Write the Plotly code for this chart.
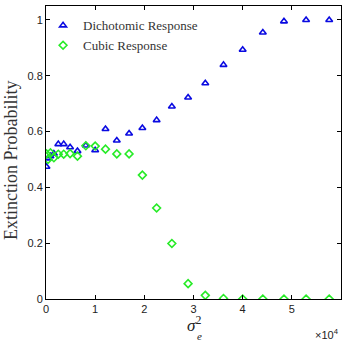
import plotly.graph_objects as go

x_vals = [0.01, 0.04, 0.09, 0.16, 0.25, 0.36, 0.49, 0.64, 0.81, 1.00, 1.21, 1.44,
          1.69, 1.96, 2.25, 2.56, 2.89, 3.24, 3.61, 4.00, 4.41, 4.84, 5.29, 5.76]
dichotomic = [0.474, 0.504, 0.512, 0.521, 0.555, 0.555, 0.544, 0.530, 0.550, 0.533, 0.609, 0.568,
              0.593, 0.613, 0.641, 0.690, 0.722, 0.773, 0.839, 0.893, 0.955, 0.995, 1.0, 1.0]
cubic = [0.520, 0.500, 0.524, 0.506, 0.519, 0.519, 0.521, 0.512, 0.549, 0.548, 0.537, 0.520,
         0.520, 0.444, 0.326, 0.199, 0.055, 0.013, 0.002, 0.0, 0.0, 0.0, 0.0, 0.0]
x_ticks = [0, 1, 2, 3, 4, 5]
y_ticks = [0, 0.2, 0.4, 0.6, 0.8, 1]
y_tick_text = ["0", "0.2", "0.4", "0.6", "0.8", "1"]

fig = go.Figure()
fig.add_trace(go.Scatter(
    x=x_vals, y=dichotomic, mode="markers", name="Dichotomic Response",
    marker=dict(symbol="triangle-up-open", size=6, color="rgb(10,10,225)",
                line=dict(width=1.6, color="rgb(10,10,225)"))))
fig.add_trace(go.Scatter(
    x=x_vals, y=cubic, mode="markers", name="Cubic Response",
    marker=dict(symbol="diamond-open", size=6, color="rgb(40,235,40)",
                line=dict(width=1.6, color="rgb(40,235,40)"))))

axis_common = dict(showline=True, linecolor="black", linewidth=1, mirror="allticks",
                   ticks="inside", ticklen=4, tickcolor="black", showgrid=False,
                   zeroline=False, tickfont=dict(family="Liberation Sans, Arial", size=11, color="#222"))

fig.update_layout(
    width=343, height=348,
    margin=dict(l=46, r=2, t=6, b=49),
    plot_bgcolor="white", paper_bgcolor="white",
    showlegend=True,
    legend=dict(x=-0.01, y=0.985, xanchor="left", yanchor="top",
                bgcolor="rgba(0,0,0,0)", borderwidth=0,
                font=dict(family="Liberation Serif, Times New Roman, serif", size=13, color="#333"),
                itemwidth=30, tracegroupgap=0),
    xaxis=dict(range=[0, 6], tickvals=x_ticks, ticktext=[str(t) for t in x_ticks], **axis_common),
    yaxis=dict(range=[0, 1.05], tickvals=y_ticks, ticktext=y_tick_text, **axis_common),
)

fig.add_annotation(xref="paper", yref="paper", x=-0.119, y=0.474, xanchor="center", yanchor="middle",
                   text="Extinction Probability", textangle=-90, showarrow=False,
                   font=dict(family="Liberation Serif, Times New Roman, serif", size=18, color="#333"))
fig.add_annotation(xref="paper", yref="paper", x=0.5, y=-0.04, xanchor="center", yanchor="top",
                   text="<i>σ</i><sup>2</sup>", showarrow=False,
                   font=dict(family="Liberation Serif, serif", size=17, color="#222"))
fig.add_annotation(xref="paper", yref="paper", x=0.505, y=-0.1, xanchor="left", yanchor="top",
                   text="<i>e</i>", showarrow=False,
                   font=dict(family="Liberation Serif, serif", size=11, color="#222"))
fig.add_annotation(xref="paper", yref="paper", x=1.0, y=-0.09, xanchor="right", yanchor="top",
                   text="×10<sup>4</sup>", showarrow=False,
                   font=dict(family="Liberation Sans, Arial", size=11, color="#222"))

fig.write_html("out.html")
